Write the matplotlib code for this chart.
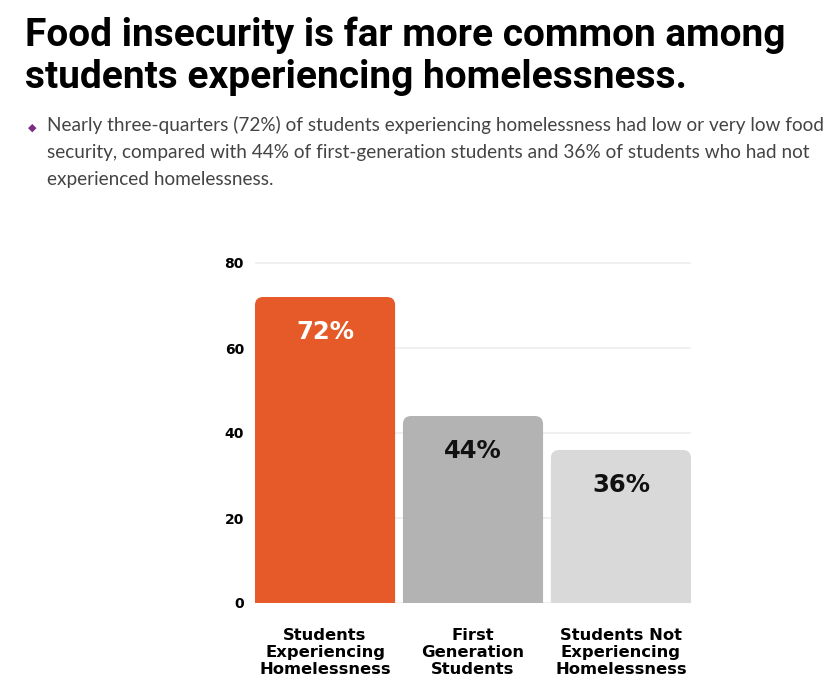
import matplotlib.pyplot as plt
from matplotlib.patches import FancyBboxPatch

categories = ['Students\nExperiencing\nHomelessness', 'First\nGeneration\nStudents',
              'Students Not\nExperiencing\nHomelessness']
values = [72, 44, 36]
bar_labels = ['72%', '44%', '36%']
colors = ['#E55A28', '#B3B3B3', '#D9D9D9']
label_colors = ['white', '#111111', '#111111']
yticks = [0, 20, 40, 60, 80]

title = 'Food insecurity is far more common among\nstudents experiencing homelessness.'
note = ('Nearly three-quarters (72%) of students experiencing homelessness had low or very low food\n'
        'security, compared with 44% of first-generation students and 36% of students who had not\n'
        'experienced homelessness.')

fig = plt.figure(figsize=(8.35, 6.99), dpi=100)
fig.text(0.030, 0.977, title, fontsize=28, fontweight='bold', family='Roboto',
         va='top', ha='left', linespacing=1.19, color='black')
fig.text(0.034, 0.817, '\u25c6', fontsize=8, color='#7B2D83', va='center', ha='left')
fig.text(0.056, 0.834, note, fontsize=13.7, family='Lato', color='#444444',
         va='top', ha='left', linespacing=1.72)

w = 0.947
# axes: x 255..691 px, y 263..603 px (0..80)
ax = fig.add_axes([255/835, 1-603/699, 436/835, 352/699])
ax.set_xlim(-w/2, len(values) - 1 + w/2)
ax.set_ylim(0, 80 * 352/340)

r = 0.055
for i, (v, c) in enumerate(zip(values, colors)):
    p = FancyBboxPatch((i - w/2, -5), w, v + 5,
                       boxstyle=f'round,pad=0,rounding_size={r}',
                       mutation_aspect=35, facecolor=c, edgecolor='none', zorder=2)
    ax.add_patch(p)
    ax.text(i, v - 8.2, bar_labels[i], ha='center', va='center', fontsize=17.5,
            fontweight='bold', family='DejaVu Sans', color=label_colors[i], zorder=3)

ax.set_yticks(yticks)
ax.set_yticklabels([str(t) for t in yticks], fontsize=10, fontweight='bold')
ax.yaxis.grid(True, color='#EEEEEE', linewidth=1.2, zorder=0)
ax.set_axisbelow(True)
ax.tick_params(axis='y', length=0, pad=8)
ax.set_xticks(range(len(categories)))
ax.set_xticklabels(categories, fontsize=11.8, fontweight='bold', linespacing=1.15)
ax.tick_params(axis='x', length=0, pad=18)
for s in ax.spines.values():
    s.set_visible(False)

fig.savefig('out.png', dpi=100, facecolor='white')
